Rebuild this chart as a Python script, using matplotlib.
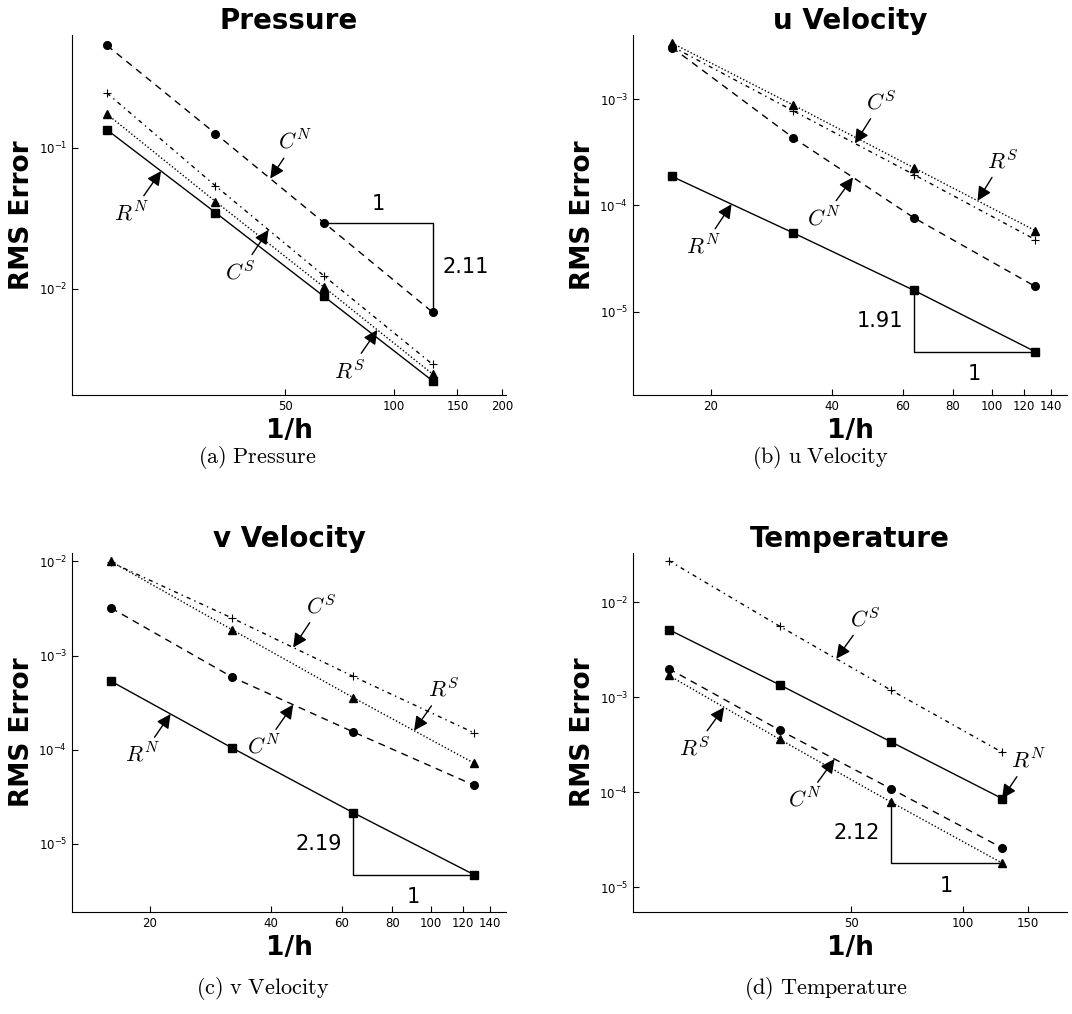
import matplotlib
matplotlib.use('Agg')

import numpy as np
import matplotlib.pyplot as plt
from matplotlib import ticker

# grid resolution 1/h
inv_h = [16, 32, 64, 128]

# RMS errors -- pressure
p_CN = [0.531, 0.126, 0.0294, 0.00684]
p_CS = [0.244, 0.0537, 0.01236, 0.00292]
p_RS = [0.173, 0.0416, 0.01028, 0.00249]
p_RN = [0.134, 0.0347, 0.00883, 0.00223]

# RMS errors -- u velocity
u_CN = [3.05e-3, 4.33e-4, 7.62e-5, 1.73e-5]
u_CS = [3.12e-3, 7.76e-4, 1.94e-4, 4.77e-5]
u_RS = [3.36e-3, 8.79e-4, 2.25e-4, 5.79e-5]
u_RN = [1.87e-4, 5.52e-5, 1.585e-5, 4.21e-6]

# RMS errors -- v velocity
v_CN = [3.2e-3, 5.9e-4, 1.54e-4, 4.16e-5]
v_CS = [9.8e-3, 2.5e-3, 6.0e-4, 1.5e-4]
v_RS = [1.0e-2, 1.88e-3, 3.57e-4, 7.14e-5]
v_RN = [5.33e-4, 1.04e-4, 2.13e-5, 4.65e-6]

# RMS errors -- temperature
t_CN = [2.0e-3, 4.5e-4, 1.09e-4, 2.6e-5]
t_CS = [2.75e-2, 5.58e-3, 1.19e-3, 2.64e-4]
t_RS = [1.7e-3, 3.6e-4, 7.9e-5, 1.8e-5]
t_RN = [5.16e-3, 1.35e-3, 3.4e-4, 8.6e-5]

titles = ['Pressure', 'u Velocity', 'v Velocity', 'Temperature']
captions = [r'$\mathrm{(a)\ Pressure}$', r'$\mathrm{(b)\ u\ Velocity}$',
            r'$\mathrm{(c)\ v\ Velocity}$', r'$\mathrm{(d)\ Temperature}$']
xticks = [[50, 100, 150, 200],
          [20, 40, 60, 80, 100, 120, 140],
          [20, 40, 60, 80, 100, 120, 140],
          [50, 100, 150]]
xlims = [(12.8, 204.8), (12.8, 153.6), (12.8, 153.6), (12.8, 192)]
ylims = [(1.77e-3, 0.63), (1.65e-6, 4.0e-3), (1.87e-6, 1.23e-2), (5.5e-6, 3.3e-2)]
slope_labels = ['2.11', '1.91', '2.19', '2.12']

# line style for each scheme
styles = {
    'CN': dict(marker='o', dashes=(5, 4), ms=5.5),
    'CS': dict(marker='+', dashes=(3, 3, 1, 3), ms=6, mew=0.8),
    'RS': dict(marker='^', dashes=(1, 1.5), ms=5.5),
    'RN': dict(marker='s', linestyle='-', ms=5.5),
}
labels = {'CN': r'$C^N$', 'CS': r'$C^S$', 'RS': r'$R^S$', 'RN': r'$R^N$'}

panels = [
    dict(CN=p_CN, CS=p_CS, RS=p_RS, RN=p_RN),
    dict(CN=u_CN, CS=u_CS, RS=u_RS, RN=u_RN),
    dict(CN=v_CN, CS=v_CS, RS=v_RS, RN=v_RN),
    dict(CN=t_CN, CS=t_CS, RS=t_RS, RN=t_RN),
]

# (series, x of arrow tip, text offset in points)
notes = [
    [('CN', 45.4, (18, 27)), ('CS', 44.9, (-20, -30)),
     ('RN', 22.6, (-21, -30)), ('RS', 90.0, (-20, -29))],
    [('CS', 45.6, (19, 30)), ('RS', 92.0, (18, 29)),
     ('CN', 45.1, (-21, -29)), ('RN', 22.5, (-20, -30))],
    [('CS', 45.4, (20, 30)), ('RS', 90.7, (21, 30)),
     ('CN', 45.4, (-21, -30)), ('RN', 22.5, (-20, -29))],
    [('CS', 45.5, (21, 29)), ('RN', 128.0, (19, 28)),
     ('RS', 22.6, (-21, -29)), ('CN', 45.0, (-21, -29))],
]
# which series carries the slope triangle, and where its corner sits
slope_series = [('CN', 'upper'), ('RN', 'lower'), ('RN', 'lower'), ('RS', 'lower')]

boxes = [[0.0672, 0.6105, 0.4049, 0.3550],
         [0.5905, 0.6105, 0.4049, 0.3550],
         [0.0672, 0.1006, 0.4049, 0.3540],
         [0.5905, 0.1006, 0.4049, 0.3540]]
caption_pos = [(0.240, 0.549), (0.765, 0.549), (0.245, 0.025), (0.770, 0.025)]


def log_interp(x, ys):
    return np.exp(np.interp(np.log(x), np.log(inv_h), np.log(ys)))


def slope_triangle(ax, ys, label, corner):
    x0, x1 = inv_h[2], inv_h[3]
    y0, y1 = ys[2], ys[3]
    xm, ym = np.sqrt(x0 * x1), np.sqrt(y0 * y1)
    if corner == 'upper':
        ax.plot([x0, x1, x1], [y0, y0, y1], 'k-', lw=1, zorder=1)
        ax.annotate('1', xy=(xm, y0), xytext=(0, 6), textcoords='offset points',
                    ha='center', va='bottom', fontsize=15)
        ax.annotate(label, xy=(x1, ym), xytext=(7, 0), textcoords='offset points',
                    ha='left', va='center', fontsize=15)
    else:
        ax.plot([x0, x0, x1], [y0, y1, y1], 'k-', lw=1, zorder=1)
        ax.annotate('1', xy=(xm, y1), xytext=(0, -9), textcoords='offset points',
                    ha='center', va='top', fontsize=15)
        ax.annotate(label, xy=(x0, ym), xytext=(-8, 0), textcoords='offset points',
                    ha='right', va='center', fontsize=15)


fig = plt.figure(figsize=(10.72, 10.14), dpi=100)

for i in range(4):
    ax = fig.add_axes(boxes[i])
    data = panels[i]
    for key in ['CN', 'CS', 'RS', 'RN']:
        ax.plot(inv_h, data[key], color='k', lw=1, **styles[key])

    ax.set_xscale('log')
    ax.set_yscale('log')
    ax.set_xlim(*xlims[i])
    ax.set_ylim(*ylims[i])

    ax.xaxis.set_major_locator(ticker.FixedLocator(xticks[i]))
    ax.xaxis.set_major_formatter(ticker.FormatStrFormatter('%d'))
    ax.xaxis.set_minor_locator(ticker.NullLocator())
    ax.yaxis.set_major_locator(ticker.LogLocator(base=10))
    ax.yaxis.set_minor_locator(ticker.NullLocator())

    for side in ['top', 'right']:
        ax.spines[side].set_visible(False)
    ax.tick_params(direction='in', length=4, width=0.8, labelsize=8.5,
                   top=False, right=False)

    ax.set_title(titles[i], fontsize=20, fontweight='bold', pad=4)
    ax.set_ylabel('RMS Error', fontsize=19, fontweight='bold')
    ax.yaxis.set_label_coords(-0.085, 0.5)
    ax.set_xlabel('1/h', fontsize=19, fontweight='bold')
    ax.xaxis.set_label_coords(0.5, -0.065)

    key, corner = slope_series[i]
    slope_triangle(ax, data[key], slope_labels[i], corner)

    for key, xt, off in notes[i]:
        ax.annotate(labels[key], xy=(xt, log_interp(xt, data[key])),
                    xytext=off, textcoords='offset points',
                    ha='center', va='center', fontsize=16, math_fontfamily='cm',
                    arrowprops=dict(arrowstyle='-|>,head_length=0.6,head_width=0.3',
                                    color='k', lw=1, mutation_scale=14,
                                    shrinkA=2, shrinkB=0))

    fig.text(caption_pos[i][0], caption_pos[i][1], captions[i], fontsize=16,
             math_fontfamily='cm', ha='center', va='center')

fig.savefig('out.png', dpi=100)
plt.close(fig)
